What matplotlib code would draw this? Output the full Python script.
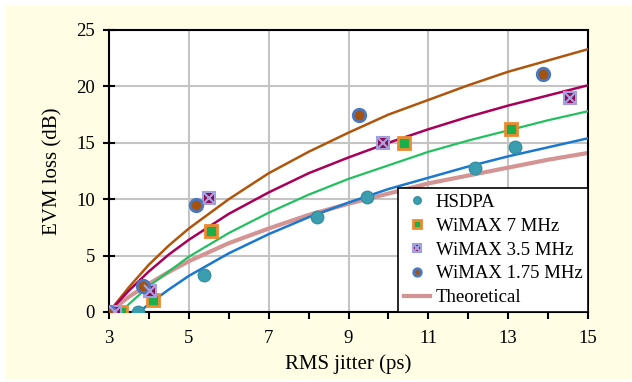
import matplotlib
matplotlib.use('Agg')
import matplotlib.pyplot as plt
from matplotlib.patches import Rectangle

# measured points
hsdpa_x = [3.0, 3.72, 5.37, 8.2, 9.47, 12.17, 13.18]
hsdpa_y = [0.0, 0.0, 3.3, 8.45, 10.2, 12.8, 14.6]

w7_x = [3.3, 4.09, 5.55, 10.38, 13.08]
w7_y = [0.0, 1.1, 7.2, 14.95, 16.2]

w35_x = [3.15, 4.03, 5.51, 9.87, 14.55]
w35_y = [0.0, 1.9, 10.1, 14.95, 19.0]

w175_x = [3.0, 3.84, 5.19, 9.26, 13.87]
w175_y = [0.0, 2.3, 9.5, 17.5, 21.1]

# fitted curves
fit_x = [3.0, 3.5, 4, 4.5, 5, 6, 7, 8, 9, 10, 11, 12, 13, 14, 15]
fit175_y = [0.0, 2.2, 4.2, 5.9, 7.4, 10.0, 12.3, 14.2, 15.9, 17.5, 18.8, 20.1, 21.3, 22.3, 23.3]
fit35_y = [0.0, 1.9, 3.6, 5.1, 6.4, 8.7, 10.6, 12.3, 13.7, 15.0, 16.2, 17.3, 18.3, 19.2, 20.1]
theo_y = [0.0, 1.35, 2.5, 3.55, 4.5, 6.1, 7.4, 8.6, 9.6, 10.5, 11.4, 12.1, 12.8, 13.5, 14.1]

fit7_x = [3.3, 3.5, 4, 4.5, 5, 6, 7, 8, 9, 10, 11, 12, 13, 14, 15]
fit7_y = [0.0, 0.7, 2.3, 3.6, 4.9, 7.0, 8.8, 10.4, 11.8, 13.0, 14.2, 15.2, 16.1, 17.0, 17.8]

fith_x = [3.75, 4, 4.5, 5, 6, 7, 8, 9, 10, 11, 12, 13, 14, 15]
fith_y = [0.0, 0.7, 2.0, 3.2, 5.2, 6.9, 8.4, 9.7, 10.9, 11.9, 12.9, 13.8, 14.6, 15.4]

labels = ['HSDPA', 'WiMAX 7 MHz', 'WiMAX 3.5 MHz', 'WiMAX 1.75 MHz', 'Theoretical']

plt.rcParams['font.family'] = 'Liberation Serif'
plt.rcParams['font.size'] = 13.5

fig = plt.figure(figsize=(6.32, 3.82), dpi=100)
fig.patch.set_facecolor('white')
fig.patches.append(Rectangle((6 / 632, 2 / 382), 1, 1 - 8 / 382, transform=fig.transFigure,
                             facecolor='#fffde3', edgecolor='none', zorder=-10))
ax = fig.add_axes([109 / 632, 1 - 312 / 382, (588 - 109) / 632, (312 - 30) / 382])
ax.set_facecolor('white')

# fit lines
ax.plot(fit_x, fit175_y, color='#b0560c', lw=1.8, zorder=3)
ax.plot(fit_x, fit35_y, color='#a8005a', lw=1.8, zorder=3)
ax.plot(fit7_x, fit7_y, color='#22c060', lw=1.6, zorder=3)
ax.plot(fith_x, fith_y, color='#1a78d0', lw=1.8, zorder=3)
theo, = ax.plot(fit_x, theo_y, color='#d49494', lw=3, zorder=2)

# measured markers
h1, = ax.plot(hsdpa_x, hsdpa_y, 'o', ms=9, mfc='#3a9db0', mec='#3590a2', mew=1, zorder=4)
h2, = ax.plot(w7_x, w7_y, 's', ms=9, mfc='#19b04c', mec='#ec8a2e', mew=2, zorder=4)
h3, = ax.plot(w35_x, w35_y, 's', ms=9, mfc='#8e0c52', mec='#a0a0dc', mew=1.5, zorder=4)
h3x, = ax.plot(w35_x, w35_y, 'x', ms=8, mec='#a8a0e0', mew=1.5, zorder=5)
h4, = ax.plot(w175_x, w175_y, 'o', ms=9, mfc='#a4520e', mec='#4a78c0', mew=2, zorder=4)

ax.set_xlim(3, 15)
ax.set_ylim(0, 25)
ax.set_xticks([3, 5, 7, 9, 11, 13, 15])
ax.set_xticks(range(4, 15, 2), minor=True)
ax.set_yticks([0, 5, 10, 15, 20, 25])
ax.grid(True, color='#c4c4c4', lw=1.5)
ax.set_axisbelow(True)
ax.tick_params(axis='x', which='both', direction='out', length=5, width=1.5, pad=8)
ax.tick_params(axis='y', direction='inout', length=8, width=1.5, pad=6)
for s in ax.spines.values():
    s.set_linewidth(1.5)
    s.set_color('black')

ax.set_xlabel('RMS jitter (ps)', fontsize=15, labelpad=5)
ax.set_ylabel('EVM loss (dB)', fontsize=15, labelpad=10)

leg = ax.legend([h1, h2, (h3, h3x), h4, theo], labels,
                loc='lower right', bbox_to_anchor=(1, 0), borderaxespad=0,
                fancybox=False, framealpha=1, edgecolor='black', markerscale=0.6,
                handlelength=1.4, handletextpad=0.3, labelspacing=0.36,
                borderpad=0.3, fontsize=13.5)
leg.get_frame().set_linewidth(1.2)

fig.savefig('out.png', dpi=100, facecolor=fig.get_facecolor())
